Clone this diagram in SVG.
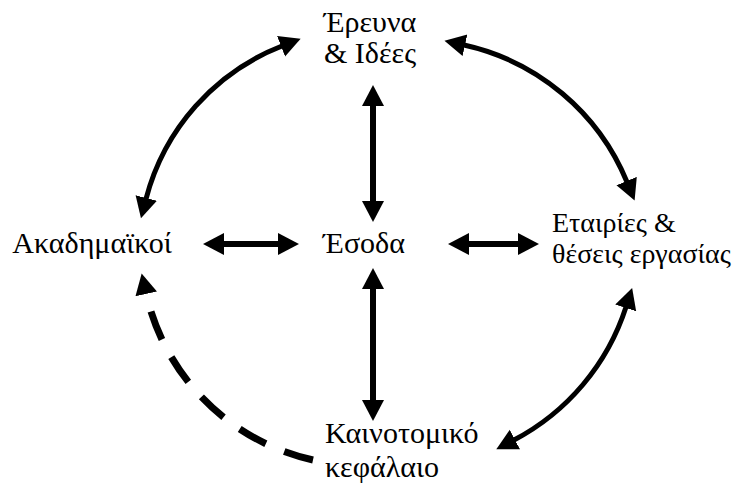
<svg xmlns="http://www.w3.org/2000/svg" width="743" height="500" viewBox="0 0 743 500">
<style>
  .lbl { font-family: "Liberation Serif", "Times New Roman", serif; font-size: 30px; fill: #000; }
  .mid { text-anchor: middle; }
  .sm { font-size: 28px; }
  .con { fill: none; stroke: #000; }
  .solid { stroke-width: 5; }
  .straight { stroke-width: 6; }
  .dash { stroke-width: 7; stroke-dasharray: 30 20; }
</style>
<defs>
  <marker id="ah" markerUnits="userSpaceOnUse" markerWidth="22" markerHeight="24" refX="1" refY="11" orient="auto-start-reverse" viewBox="0 0 22 22">
    <path d="M0,0 L21,11 L0,22 z" fill="#000"/>
  </marker>
</defs>
<g id="connectors">
  <path class="con solid" d="M 146 199 A 225 225 0 0 1 282 46" marker-start="url(#ah)" marker-end="url(#ah)"/>
  <path class="con solid" d="M 464 45 A 230 230 0 0 1 627 182" marker-start="url(#ah)" marker-end="url(#ah)"/>
  <path class="con solid" d="M 626 307 A 230 230 0 0 1 514 440" marker-start="url(#ah)" marker-end="url(#ah)"/>
  <path class="con dash" d="M 313 460 A 220 220 0 0 1 146 293" marker-end="url(#ah)"/>
  <path class="con straight" d="M 373 105 L 373 202" marker-start="url(#ah)" marker-end="url(#ah)"/>
  <path class="con straight" d="M 373 288 L 373 401" marker-start="url(#ah)" marker-end="url(#ah)"/>
  <path class="con straight" d="M 223 244 L 279 244" marker-start="url(#ah)" marker-end="url(#ah)"/>
  <path class="con straight" d="M 468 244 L 519 244" marker-start="url(#ah)" marker-end="url(#ah)"/>
</g>
<g id="node-research">
  <text class="lbl mid" x="370" y="32">Έρευνα</text>
  <text class="lbl mid" x="370" y="63">&amp; Ιδέες</text>
</g>
<g id="node-academics">
  <text class="lbl mid" x="92" y="253">Ακαδημαϊκοί</text>
</g>
<g id="node-income">
  <text class="lbl mid" x="364" y="253">Έσοδα</text>
</g>
<g id="node-companies">
  <text class="lbl sm" x="552" y="232">Εταιρίες &amp;</text>
  <text class="lbl sm" x="552" y="263">θέσεις εργασίας</text>
</g>
<g id="node-capital">
  <text class="lbl" x="325" y="443">Καινοτομικό</text>
  <text class="lbl" x="325" y="477">κεφάλαιο</text>
</g>
</svg>
